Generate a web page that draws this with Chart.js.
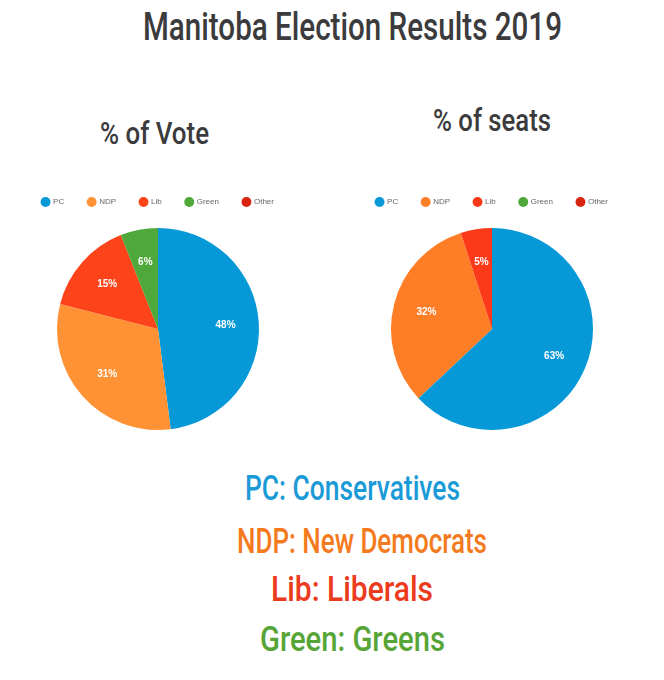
<!DOCTYPE html>
<html>
<head>
<meta charset="utf-8">
<script src="https://cdn.jsdelivr.net/npm/chart.js@4.4.1/dist/chart.umd.min.js"></script>
<style>
  html, body { margin: 0; padding: 0; background: #fff; }
  body { width: 664px; height: 680px; position: relative; overflow: hidden; }
  .t { position: absolute; white-space: nowrap; font-family: Roboto, "DejaVu Sans Condensed", sans-serif; font-weight: 500; transform-origin: 0 0; line-height: 1; }
  .box { position: absolute; }
</style>
</head>
<body>
<div class="t" id="title" data-x="143" data-w="419" data-y="8" style="font-size:39px;color:#3b3b3d;">Manitoba Election Results 2019</div>
<div class="t" id="h1" data-x="100" data-w="109" data-y="118" style="font-size:31px;color:#3b3b3d;">% of Vote</div>
<div class="t" id="h2" data-x="433" data-w="118" data-y="105" style="font-size:31px;color:#3b3b3d;">% of seats</div>
<div class="t" data-x="245" data-w="215" data-y="471" style="font-size:35px;color:#1a9ad6;">PC: Conservatives</div>
<div class="t" data-x="237" data-w="250" data-y="524" style="font-size:35px;color:#f47a20;">NDP: New Democrats</div>
<div class="t" data-x="271" data-w="162" data-y="572" style="font-size:35px;color:#ec3a1c;">Lib: Liberals</div>
<div class="t" data-x="260" data-w="185" data-y="622" style="font-size:35px;color:#57a536;">Green: Greens</div>

<div class="box" style="left:10px;top:174px;width:296px;height:268px;"><canvas id="c1"></canvas></div>
<div class="box" style="left:344px;top:174px;width:296px;height:268px;"><canvas id="c2"></canvas></div>

<script>
const parties = ["PC", "NDP", "Lib", "Green", "Other"];
const voteShare = [48, 31, 15, 6, 0];
const seatShare = [63, 32, 5, 0, 0];
const voteColors = ["#0798d8", "#fe9234", "#fc4319", "#4ea83a", "#d8240e"];
const seatColors = ["#0798d8", "#fd7e27", "#fc3a1a", "#4ea83a", "#d8240e"];

// fit text widths
document.querySelectorAll('.t').forEach(el => {
  const w = el.getBoundingClientRect().width;
  const target = +el.dataset.w;
  el.style.left = el.dataset.x + 'px';
  el.style.top = el.dataset.y + 'px';
  el.style.transform = 'scaleX(' + (target / w) + ')';
});

const sliceLabels = {
  id: 'sliceLabels',
  afterDatasetsDraw(chart) {
    const ctx = chart.ctx;
    const meta = chart.getDatasetMeta(0);
    const data = chart.data.datasets[0].data;
    ctx.save();
    ctx.fillStyle = '#ffffff';
    ctx.font = 'bold 10px "Liberation Sans", Arial, sans-serif';
    ctx.textAlign = 'center';
    ctx.textBaseline = 'middle';
    meta.data.forEach((arc, i) => {
      if (!data[i]) return;
      const p = arc.getProps(['x', 'y', 'startAngle', 'endAngle', 'outerRadius'], true);
      const a = (p.startAngle + p.endAngle) / 2;
      const r = p.outerRadius * 0.67;
      ctx.fillText(data[i] + '%', p.x + Math.cos(a) * r, p.y + Math.sin(a) * r);
    });
    ctx.restore();
  }
};

function makePie(id, values, colors) {
  return new Chart(document.getElementById(id), {
    type: 'pie',
    data: {
      labels: parties,
      datasets: [{ data: values, backgroundColor: colors, borderWidth: 0, radius: 101 }]
    },
    options: {
      responsive: true,
      maintainAspectRatio: false,
      animation: false,
      layout: { padding: 0 },
      plugins: {
        legend: {
          position: 'top',
          labels: {
            usePointStyle: true,
            pointStyle: 'circle',
            boxWidth: 7,
            boxHeight: 7,
            padding: 24,
            color: '#666',
            font: { size: 8, family: '"Liberation Sans", Arial, sans-serif' }
          }
        },
        tooltip: { enabled: false }
      }
    },
    plugins: [sliceLabels]
  });
}

makePie('c1', voteShare, voteColors);
makePie('c2', seatShare, seatColors);
</script>
</body>
</html>
